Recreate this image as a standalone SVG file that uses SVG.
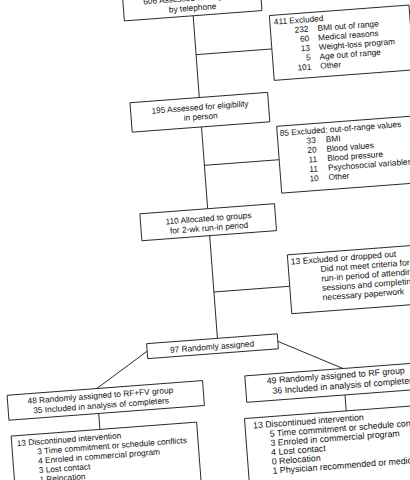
<svg xmlns="http://www.w3.org/2000/svg" width="410" height="480" viewBox="0 0 410 480">
<style>
 .box{fill:#fff;stroke:#1a1a1a;stroke-width:0.9}
 .ln{stroke:#1a1a1a;stroke-width:0.9;fill:none}
 text{font-family:"Liberation Sans",Arial,sans-serif;font-size:8.3px;fill:#111}
 .c{text-anchor:middle}
 .e{text-anchor:end}
 .lg{font-size:8.8px}
 .md{font-size:8.6px}
</style>
<rect width="410" height="480" fill="#fff"/>
<g transform="rotate(-4.3 205 240)">
 <g id="connectors">
  <path class="ln" d="M210,15.5V97.5 M210,127V209 M210,236V339 M210,54.5H286 M210,165.5H285 M210,292.5H286 M139,346.5L86,380 M270,346.5L333,378.5 M86,405V421 M333,405V421"/>
 </g>
 <g id="n-telephone">
  <rect class="box" x="141" y="-16" width="138" height="31.5"/>
  <text class="c" x="210" y="0.5">606 Assessed for eligibility</text>
  <text class="c" x="210" y="10.5">by telephone</text>
 </g>
 <g id="n-excl1">
  <rect class="box" x="286" y="21" width="140" height="65"/>
  <text x="290" y="30.5">411 Excluded</text>
  <text class="e" x="324" y="40">232</text><text x="333" y="40">BMI out of range</text>
  <text class="e" x="324" y="49.5">60</text><text x="333" y="49.5">Medical reasons</text>
  <text class="e" x="324" y="59">13</text><text x="333" y="59">Weight-loss program</text>
  <text class="e" x="324" y="68.5">5</text><text x="333" y="68.5">Age out of range</text>
  <text class="e" x="324" y="78">101</text><text x="333" y="78">Other</text>
 </g>
 <g id="n-person">
  <rect class="box" x="140.5" y="97.5" width="138" height="29.5"/>
  <text class="c" x="210" y="110">195 Assessed for eligibility</text>
  <text class="c" x="210" y="119.5">in person</text>
 </g>
 <g id="n-excl2">
  <rect class="box" x="285" y="132" width="141" height="67"/>
  <text x="287.5" y="142">85 Excluded: out-of-range values</text>
  <text class="e" x="323" y="151.5">33</text><text x="333" y="151.5">BMI</text>
  <text class="e" x="323" y="161">20</text><text x="333" y="161">Blood values</text>
  <text class="e" x="323" y="170.5">11</text><text x="333" y="170.5">Blood pressure</text>
  <text class="e" x="323" y="180">11</text><text x="333" y="180">Psychosocial variables</text>
  <text class="e" x="323" y="189.5">10</text><text x="333" y="189.5">Other</text>
 </g>
 <g id="n-runin">
  <rect class="box" x="142" y="209" width="135" height="27"/>
  <text class="c" x="210" y="221.5">110 Allocated to groups</text>
  <text class="c" x="210" y="231">for 2-wk run-in period</text>
 </g>
 <g id="n-excl3">
  <rect class="box" x="286" y="261" width="140" height="59"/>
  <text class="md" x="289" y="271">13 Excluded or dropped out</text>
  <text class="md" x="318" y="280.5">Did not meet criteria for</text>
  <text class="md" x="318" y="290">run-in period of attending</text>
  <text class="md" x="318" y="299.5">sessions and completing</text>
  <text class="md" x="318" y="309">necessary paperwork</text>
 </g>
 <g id="n-random">
  <rect class="box" x="139" y="339" width="131" height="15"/>
  <text class="c" x="204" y="349.8">97 Randomly assigned</text>
 </g>
 <g id="n-rffv">
  <rect class="box" x="-4" y="380" width="196" height="25"/>
  <text class="c" x="89" y="390">48 Randomly assigned to RF+FV group</text>
  <text class="c" x="89" y="400">35 Included in analysis of completers</text>
 </g>
 <g id="n-rf">
  <rect class="box" x="234.5" y="378.5" width="196" height="26.5"/>
  <text class="lg" x="256" y="388">49 Randomly assigned to RF group</text>
  <text class="lg" x="261" y="398.5">36 Included in analysis of completers</text>
 </g>
 <g id="n-disc1">
  <rect class="box" x="-3" y="421" width="186" height="80"/>
  <text x="2" y="431.5">13 Discontinued intervention</text>
  <text x="22" y="441">3 Time commitment or schedule conflicts</text>
  <text x="22" y="450.5">4 Enroled in commercial program</text>
  <text x="22" y="460">3 Lost contact</text>
  <text x="22" y="469.5">1 Relocation</text>
 </g>
 <g id="n-disc2">
  <rect class="box" x="231" y="421" width="200" height="80"/>
  <text class="lg" x="239" y="431.5">13 Discontinued intervention</text>
  <text class="lg" x="255" y="441">5 Time commitment or schedule conflicts</text>
  <text class="lg" x="255" y="450.3">3 Enroled in commercial program</text>
  <text class="lg" x="255" y="459.6">4 Lost contact</text>
  <text class="lg" x="255" y="468.9">0 Relocation</text>
  <text class="lg" x="255" y="478.2">1 Physician recommended or medical reasons</text>
 </g>
</g>
</svg>
